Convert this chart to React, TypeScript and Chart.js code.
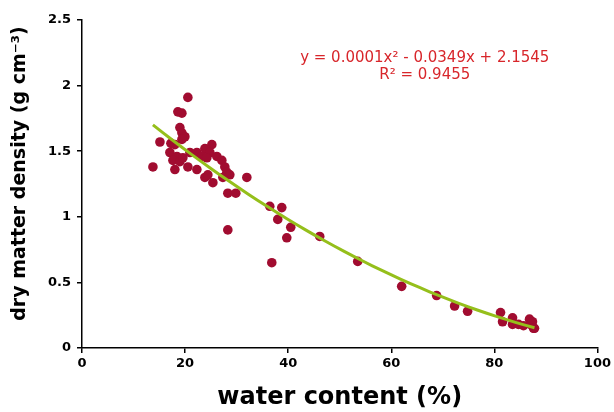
import { useEffect, useRef } from "react";
import { Chart, registerables } from "chart.js";

Chart.register(...registerables);

// Observed samples
const waterContent = [
  13.76, 15.12, 20.54, 18.6, 19.38, 18.99, 19.38, 19.96, 19.38, 17.25,
  18.02, 17.05, 18.41, 17.64, 18.99, 18.02, 19.57, 20.54, 20.93, 22.29,
  22.29, 23.84, 24.42, 25.39, 25.19, 23.84, 24.81, 23.26, 24.22, 26.16,
  27.13, 27.71, 28.1, 28.68, 27.33, 28.29, 29.84, 31.98, 28.29, 36.43,
  38.76, 37.98, 40.5, 39.73, 36.82, 46.12, 53.49, 62.02, 68.8, 72.29,
  74.81, 81.2, 81.59, 83.53, 83.53, 84.69, 85.66, 86.82, 87.02, 87.4,
  87.6, 87.79,
];
const dryMatterDensity = [
  1.38, 1.57, 1.91, 1.8, 1.79, 1.68, 1.64, 1.61, 1.59, 1.56,
  1.55, 1.49, 1.46, 1.43, 1.42, 1.36, 1.45, 1.38, 1.49, 1.49,
  1.36, 1.3, 1.32, 1.26, 1.55, 1.52, 1.49, 1.46, 1.45, 1.46,
  1.43, 1.38, 1.34, 1.32, 1.3, 1.18, 1.18, 1.3, 0.9, 1.08,
  1.07, 0.98, 0.92, 0.84, 0.65, 0.85, 0.66, 0.47, 0.4, 0.32,
  0.28, 0.27, 0.2, 0.23, 0.18, 0.18, 0.17, 0.22, 0.18, 0.2,
  0.15, 0.15,
];

// Axis ticks
const xTicks = [0, 20, 40, 60, 80, 100];
const yTicks = [0, 0.5, 1, 1.5, 2, 2.5];

// Polynomial trendline coefficients (a x^2 + b x + c), unrounded a
const trendCoefficients = [0.000138, -0.0349, 2.1545];
const trendSteps = 40;

// Texts
const equationLines = ["y = 0.0001x² - 0.0349x + 2.1545", "R² = 0.9455"];
const equationAnchor = { x: 66.5, y: [2.21, 2.08] };
const xTitle = "water content (%)";
const yTitle = "dry matter density (g cm⁻³)";
const yTitleCenterValue = 1.33;

const FONT = '"DejaVu Sans", Verdana, sans-serif';

export default function App() {
  const ref = useRef<HTMLCanvasElement | null>(null);

  useEffect(() => {
    if (!ref.current) return;
    document.body.style.margin = "0";

    const points = waterContent.map((x, i) => ({ x, y: dryMatterDensity[i] }));
    const xMin = Math.min(...waterContent);
    const xMax = Math.max(...waterContent);
    const [a, b, c] = trendCoefficients;
    const trend: { x: number; y: number }[] = [];
    for (let i = 0; i <= trendSteps; i++) {
      const x = xMin + ((xMax - xMin) * i) / trendSteps;
      trend.push({ x, y: a * x * x + b * x + c });
    }

    const textPlugin = {
      id: "extraText",
      afterDraw(chart: any) {
        const ctx = chart.ctx;
        const xs = chart.scales.x;
        const ys = chart.scales.y;
        ctx.save();
        ctx.font = `15px ${FONT}`;
        ctx.fillStyle = "#d8262b";
        ctx.textAlign = "center";
        ctx.textBaseline = "middle";
        equationLines.forEach((line, i) => {
          ctx.fillText(line, xs.getPixelForValue(equationAnchor.x), ys.getPixelForValue(equationAnchor.y[i]));
        });
        ctx.restore();

        ctx.save();
        ctx.translate(20, ys.getPixelForValue(yTitleCenterValue));
        ctx.rotate(-Math.PI / 2);
        ctx.font = `bold 19px ${FONT}`;
        ctx.fillStyle = "#000";
        ctx.textAlign = "center";
        ctx.textBaseline = "middle";
        ctx.fillText(yTitle, 0, 0);
        ctx.restore();
      },
    };

    const chart = new Chart(ref.current, {
      type: "scatter",
      data: {
        datasets: [
          {
            type: "line",
            label: "trend",
            data: trend,
            borderColor: "#95bf1b",
            borderWidth: 3,
            pointRadius: 0,
            fill: false,
            tension: 0,
            order: 1,
          } as any,
          {
            label: "samples",
            data: points,
            backgroundColor: "#a10c30",
            borderWidth: 0,
            pointRadius: 4.8,
            order: 2,
          },
        ],
      },
      options: {
        animation: false,
        responsive: false,
        layout: { padding: { top: 20, right: 16, left: 0, bottom: 0 } },
        plugins: {
          legend: { display: false },
          tooltip: { enabled: false },
        },
        scales: {
          x: {
            type: "linear",
            min: xTicks[0],
            max: xTicks[xTicks.length - 1],
            afterBuildTicks: (s: any) => {
              s.ticks = xTicks.map((v) => ({ value: v }));
            },
            afterFit: (s: any) => {
              s.height = 64;
            },
            ticks: {
              font: { family: FONT, size: 13, weight: "bold" },
              color: "#000",
              padding: 3,
              maxRotation: 0,
            },
            grid: {
              drawOnChartArea: false,
              drawTicks: true,
              tickLength: 5,
              color: "#000",
              lineWidth: 1.5,
            },
            border: { display: true, color: "#000", width: 1.5 },
            title: {
              display: true,
              text: xTitle,
              color: "#000",
              font: { family: FONT, size: 24, weight: "bold" },
              padding: { top: 0, bottom: 0 },
            },
          },
          y: {
            type: "linear",
            min: yTicks[0],
            max: yTicks[yTicks.length - 1],
            afterBuildTicks: (s: any) => {
              s.ticks = yTicks.map((v) => ({ value: v }));
            },
            afterFit: (s: any) => {
              s.width = 82;
            },
            ticks: {
              font: { family: FONT, size: 13, weight: "bold" },
              color: "#000",
              padding: 6,
              callback: (v: any) => String(v),
            },
            grid: {
              drawOnChartArea: false,
              drawTicks: true,
              tickLength: 5,
              color: "#000",
              lineWidth: 1.5,
            },
            border: { display: true, color: "#000", width: 1.5 },
            title: { display: false },
          },
        },
      },
      plugins: [textPlugin],
    });

    return () => chart.destroy();
  }, []);

  return (
    <div style={{ position: "fixed", left: 0, top: 0, width: 614, height: 412, background: "#fff" }}>
      <canvas ref={ref} width={614} height={412} style={{ width: 614, height: 412 }} />
    </div>
  );
}
